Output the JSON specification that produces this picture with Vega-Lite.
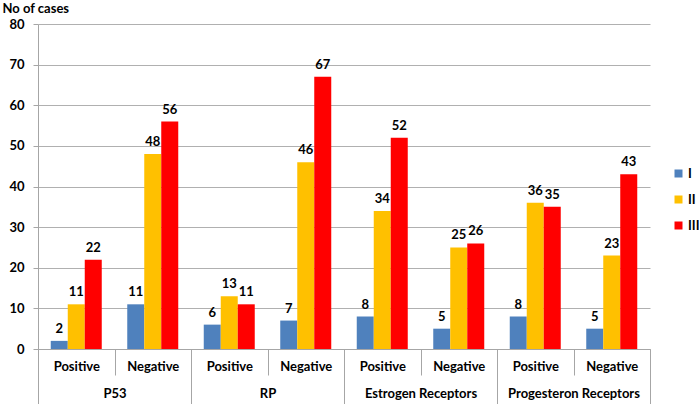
{
  "$schema": "https://vega.github.io/schema/vega-lite/v6.json",
  "width": 612,
  "height": 325,
  "autosize": {"type": "none"},
  "padding": {"left": 38, "top": 24, "right": 50, "bottom": 55},
  "background": "white",
  "config": {"font": "Lato", "view": {"stroke": null}},
  "data": {"values": [
    {"cat": "P53", "grp": "P53|Positive", "series": "I", "value": 2},
    {"cat": "P53", "grp": "P53|Positive", "series": "II", "value": 11},
    {"cat": "P53", "grp": "P53|Positive", "series": "III", "value": 22},
    {"cat": "P53", "grp": "P53|Negative", "series": "I", "value": 11},
    {"cat": "P53", "grp": "P53|Negative", "series": "II", "value": 48},
    {"cat": "P53", "grp": "P53|Negative", "series": "III", "value": 56},
    {"cat": "RP", "grp": "RP|Positive", "series": "I", "value": 6},
    {"cat": "RP", "grp": "RP|Positive", "series": "II", "value": 13},
    {"cat": "RP", "grp": "RP|Positive", "series": "III", "value": 11},
    {"cat": "RP", "grp": "RP|Negative", "series": "I", "value": 7},
    {"cat": "RP", "grp": "RP|Negative", "series": "II", "value": 46},
    {"cat": "RP", "grp": "RP|Negative", "series": "III", "value": 67},
    {"cat": "Estrogen Receptors", "grp": "Estrogen Receptors|Positive", "series": "I", "value": 8},
    {"cat": "Estrogen Receptors", "grp": "Estrogen Receptors|Positive", "series": "II", "value": 34},
    {"cat": "Estrogen Receptors", "grp": "Estrogen Receptors|Positive", "series": "III", "value": 52},
    {"cat": "Estrogen Receptors", "grp": "Estrogen Receptors|Negative", "series": "I", "value": 5},
    {"cat": "Estrogen Receptors", "grp": "Estrogen Receptors|Negative", "series": "II", "value": 25},
    {"cat": "Estrogen Receptors", "grp": "Estrogen Receptors|Negative", "series": "III", "value": 26},
    {"cat": "Progesteron Receptors", "grp": "Progesteron Receptors|Positive", "series": "I", "value": 8},
    {"cat": "Progesteron Receptors", "grp": "Progesteron Receptors|Positive", "series": "II", "value": 36},
    {"cat": "Progesteron Receptors", "grp": "Progesteron Receptors|Positive", "series": "III", "value": 35},
    {"cat": "Progesteron Receptors", "grp": "Progesteron Receptors|Negative", "series": "I", "value": 5},
    {"cat": "Progesteron Receptors", "grp": "Progesteron Receptors|Negative", "series": "II", "value": 23},
    {"cat": "Progesteron Receptors", "grp": "Progesteron Receptors|Negative", "series": "III", "value": 43}
  ]},
  "layer": [
    {
      "layer": [
        {
          "mark": {"type": "bar"},
          "encoding": {
            "x": {
              "field": "grp", "type": "nominal", "sort": null,
              "scale": {"paddingInner": 0, "paddingOuter": 0},
              "axis": {
                "title": null,
                "labelExpr": "split(datum.label,'|')[1]",
                "labelAngle": 0,
                "labelFontSize": 13,
                "labelFontWeight": "bold",
                "labelColor": "black",
                "tickBand": "extent",
                "tickSize": 26,
                "tickColor": "#a6a6a6",
                "domainColor": "#a6a6a6",
                "labelBaseline": "middle",
                "labelPadding": -9
              }
            },
            "xOffset": {"field": "series", "type": "nominal", "scale": {"paddingInner": 0, "paddingOuter": 0.75}},
            "y": {
              "field": "value", "type": "quantitative",
              "scale": {"domain": [0, 80]},
              "axis": {
                "values": [0, 10, 20, 30, 40, 50, 60, 70, 80],
                "title": "No of cases",
                "titleAngle": 0,
                "titleAlign": "left",
                "titleBaseline": "top",
                "titleX": -36,
                "titleY": -22,
                "titleFontSize": 13,
                "titleFontWeight": "bold",
                "titleColor": "black",
                "labelFontSize": 13,
                "labelFontWeight": "bold",
                "labelColor": "black",
                "labelPadding": 9,
                "gridColor": "#b0b0b0",
                "domainColor": "#a6a6a6",
                "tickColor": "#a6a6a6",
                "tickSize": 5
              }
            },
            "color": {
              "field": "series", "type": "nominal",
              "scale": {"domain": ["I", "II", "III"], "range": ["#4f81bd", "#ffc000", "#ff0000"]},
              "legend": {
                "title": null,
                "orient": "none",
                "legendX": 634,
                "legendY": 143,
                "symbolType": "square",
                "symbolSize": 64,
                "symbolStrokeWidth": 0,
                "labelFontSize": 13,
                "labelFontWeight": "bold",
                "labelColor": "black",
                "labelOffset": 3,
                "rowPadding": 12
              }
            }
          }
        },
        {
          "mark": {"type": "text", "dy": -5, "baseline": "bottom", "fontWeight": "bold", "fontSize": 13, "color": "black"},
          "encoding": {
            "x": {"field": "grp", "type": "nominal", "sort": null},
            "xOffset": {"field": "series", "type": "nominal"},
            "y": {"field": "value", "type": "quantitative"},
            "text": {"field": "value", "type": "quantitative"}
          }
        }
      ]
    },
    {
      "mark": {"type": "point", "opacity": 0},
      "encoding": {
        "x": {
          "field": "cat", "type": "nominal", "sort": null,
          "scale": {"type": "band", "paddingInner": 0, "paddingOuter": 0},
          "axis": {
            "orient": "bottom",
            "title": null,
            "labelAngle": 0,
            "labelFontSize": 13,
            "labelFontWeight": "bold",
            "labelColor": "black",
            "labelLimit": 0,
            "tickBand": "extent",
            "tickSize": 55,
            "tickColor": "#a6a6a6",
            "domain": false,
            "labelBaseline": "middle",
            "labelPadding": -11
          }
        }
      }
    }
  ],
  "resolve": {"scale": {"x": "independent"}}
}
